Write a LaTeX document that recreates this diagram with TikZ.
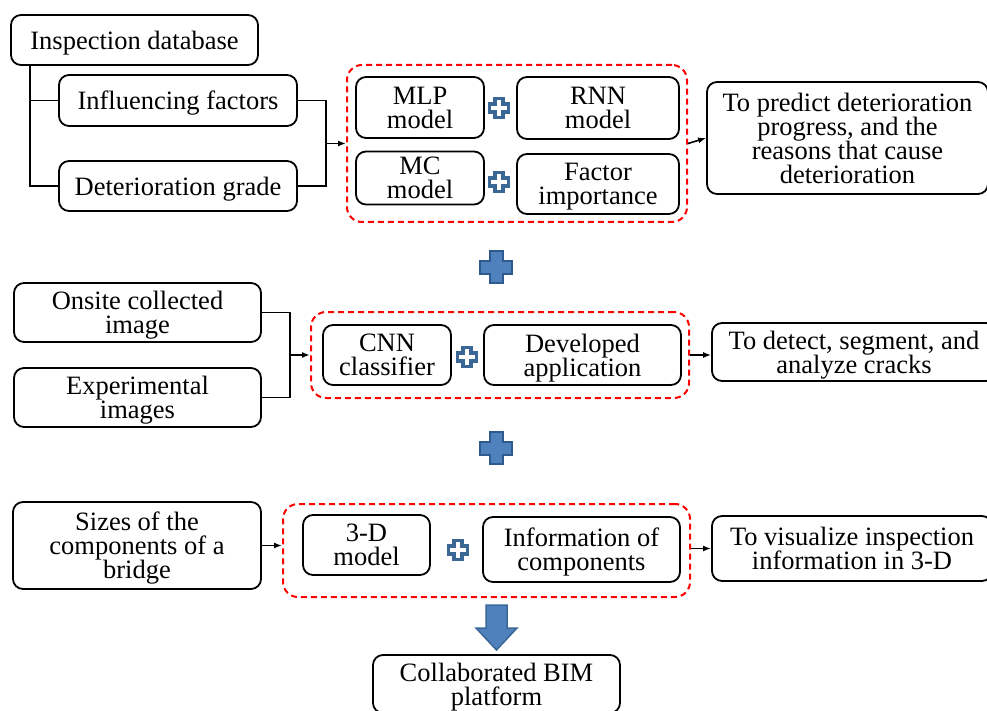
\documentclass[tikz,border=0pt]{standalone}
\usepackage{fontspec}
\setmainfont{Liberation Serif}
\newfontfamily\boxfont{Liberation Serif}
\usetikzlibrary{arrows.meta}
\definecolor{plusfill}{HTML}{4F81BD}
\definecolor{plusline}{HTML}{2F5A8E}
\definecolor{smallplus}{HTML}{3A6796}
\lineskiplimit=-30pt
\tikzset{
  box/.style={draw=black, line width=1.8pt, rounded corners=10pt, inner sep=0pt,
    align=center, text depth=0pt, font=\boxfont\fontsize{26.5}{24}\selectfont},
  group/.style={draw=red, line width=2pt, dash pattern=on 6pt off 4pt,
    rounded corners=15pt, inner sep=0pt},
  link/.style={line width=1.6pt, black},
  arr/.style={link, -{Latex[length=8pt,width=6pt]}},
  pics/addsmall/.style={code={
    \draw[smallplus, line width=3.4pt, fill=white, line join=miter]
      (-4,-9.5) -- (4,-9.5) -- (4,-4) -- (9.5,-4) -- (9.5,4) -- (4,4) -- (4,9.5)
      -- (-4,9.5) -- (-4,4) -- (-9.5,4) -- (-9.5,-4) -- (-4,-4) -- cycle;}},
  pics/addbig/.style={code={
    \draw[plusline, line width=2pt, fill=plusfill]
      (-6.5,-16) -- (6.5,-16) -- (6.5,-6.5) -- (16,-6.5) -- (16,6.5) -- (6.5,6.5)
      -- (6.5,16) -- (-6.5,16) -- (-6.5,6.5) -- (-16,6.5) -- (-16,-6.5)
      -- (-6.5,-6.5) -- cycle;}}
}
\begin{document}
\begin{tikzpicture}[x=1pt, y=-1pt]
\useasboundingbox (0,0) rectangle (987,711);
\clip (0,0) rectangle (987,711);

% ---- deterioration prediction ----
\node[box, minimum width=247, minimum height=50] (idb) at (134.5,40) {Inspection database};
\node[box, minimum width=238, minimum height=51] (inf) at (178,100.5) {Influencing factors};
\node[box, minimum width=238, minimum height=50] (det) at (178,186) {Deterioration grade};
\node[group, minimum width=340, minimum height=157] (g1) at (517,143.5) {};
\node[box, minimum width=128, minimum height=61] (mlp) at (420,107.5) {MLP\\model};
\node[box, minimum width=162, minimum height=62] (rnn) at (598,108) {RNN\\model};
\node[box, minimum width=128, minimum height=53] (mc) at (420,178) {MC\\model};
\node[box, minimum width=162, minimum height=60] (fi) at (598,184) {Factor\\importance};
\pic at (499,108) {addsmall};
\pic at (499,182) {addsmall};
\node[box, minimum width=281, minimum height=112] (pred) at (847.5,138)
  {To predict deterioration\\progress, and the\\reasons that cause\\deterioration};

\coordinate (trunk) at (30,65);
\coordinate (m1) at (326,143.5);
\draw[link] (trunk) |- (det.west);
\draw[link] (trunk |- inf.west) -- (inf.west);
\draw[link] (inf.east) -| (m1);
\draw[link] (det.east) -| (m1);
\draw[arr] (m1) -- (g1.west);
\draw[arr] (g1.east) -- (pred.west);

\pic at (496,267) {addbig};

% ---- crack detection ----
\node[box, minimum width=247, minimum height=59] (onsite) at (137.5,312.5) {Onsite collected\\image};
\node[box, minimum width=247, minimum height=59] (expimg) at (137.5,397.5) {Experimental\\images};
\node[group, minimum width=378, minimum height=86] (g2) at (500,355) {};
\node[box, minimum width=128, minimum height=60] (cnn) at (387,355) {CNN\\classifier};
\node[box, minimum width=197, minimum height=60] (dev) at (582.5,355) {Developed\\application};
\pic at (467,357) {addsmall};
\node[box, minimum width=284, minimum height=58] (detect) at (854,352)
  {To detect, segment, and\\analyze cracks};

\coordinate (m2) at (290,355);
\draw[link] (onsite.east) -| (m2);
\draw[link] (expimg.east) -| (m2);
\draw[arr] (m2) -- (g2.west);
\draw[arr] (g2.east) -- (g2.east -| detect.west);

\pic at (496,448) {addbig};

% ---- 3-D visualization ----
\node[box, minimum width=248, minimum height=87] (sizes) at (137,545.5)
  {Sizes of the\\components of a\\bridge};
\node[group, minimum width=407, minimum height=93] (g3) at (486.5,550.5) {};
\node[box, minimum width=127, minimum height=60] (m3d) at (366.5,545) {3-D\\model};
\node[box, minimum width=197, minimum height=65] (info) at (581.5,549.5) {Information of\\components};
\pic at (458,550) {addsmall};
\node[box, minimum width=280, minimum height=65] (vis) at (852,548.5)
  {To visualize inspection\\information in 3-D};

\draw[arr] (sizes.east) -- (sizes.east -| g3.west);
\draw[arr] (vis.west -| g3.east) -- (vis.west);

% ---- result ----
\draw[smallplus, line width=1.5pt, fill=plusfill]
  (486,605) -- (507,605) -- (507,628) -- (517,628) -- (496.5,650)
  -- (476,628) -- (486,628) -- cycle;
\node[box, minimum width=247, minimum height=58] (bim) at (496.5,684)
  {Collaborated BIM\\platform};
\end{tikzpicture}
\end{document}
